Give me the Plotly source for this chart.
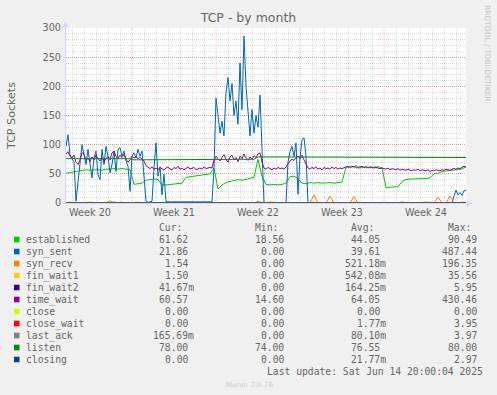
import plotly.graph_objects as go
import pandas as pd

# ---------------- data ----------------
series_names = ["established", "syn_sent", "syn_recv", "fin_wait1", "fin_wait2",
                "time_wait", "close", "close_wait", "last_ack", "listen", "closing"]
series_colors = ["#00CC00", "#0066B3", "#FF8000", "#FFCC00", "#330099",
                 "#990099", "#CCFF00", "#FF0000", "#808080", "#008F00", "#00487D"]
week_labels = ["Week 20", "Week 21", "Week 22", "Week 23", "Week 24"]
week_centers = ["2025-05-14 12:00", "2025-05-21 12:00", "2025-05-28 12:00",
                "2025-06-04 12:00", "2025-06-11 12:00"]
week_starts = ["2025-05-18", "2025-05-25", "2025-06-01", "2025-06-08"]
period_start = "2025-05-12 12:00"
period_end = "2025-06-14 20:00"

# samples every 8 h (101 values)
established = [
    51, 52, 54, 55, 56, 57, 56, 57, 57, 56,
    58, 58, 59, 58, 59, 58, 57, 32, 33, 34,
    39, 40, 41, 40, 31, 31, 32, 32, 33, 34,
    44, 45, 46, 47, 48, 48, 50, 60, 24, 31,
    35, 37, 38, 40, 39, 41, 42, 44, 75, 45,
    32, 31, 32, 31, 32, 34, 45, 46, 42, 34,
    33, 35, 34, 35, 34, 35, 35, 34, 35, 36,
    61, 61, 62, 60, 61, 62, 61, 62, 62, 61,
    26, 27, 27, 28, 37, 40, 41, 41, 42, 42,
    42, 43, 50, 51, 54, 55, 56, 56, 57, 58,
    63]

# samples every 4 h (201 values)
syn_sent = [
    97, 117, 83, 75, 70, 3, 37, 60, 100, 83,
    66, 92, 65, 43, 77, 89, 49, 40, 92, 66,
    97, 80, 52, 66, 89, 54, 92, 95, 80, 89,
    72, 63, 20, 80, 86, 77, 92, 80, 89, 43,
    3, 1, 2, 3, 60, 103, 46, 62, 14, 49,
    2, 2, 2, 2, 2, 2, 2, 2, 2, 2,
    2, 2, 2, 2, 2, 2, 2, 2, 2, 2,
    2, 2, 2, 2, 60, 180, 150, 120, 140, 115,
    190, 215, 175, 205, 150, 175, 135, 240, 160, 286,
    200, 150, 115, 160, 120, 150, 130, 185, 80, 0,
    0, 0, 0, 0, 0, 0, 0, 0, 0, 0,
    0, 70, 88, 97, 80, 103, 15, 78, 109, 112,
    80, 0, 0, 0, 0, 0, 0, 0, 0, 0,
    0, 0, 0, 0, 0, 0, 0, 0, 0, 0,
    0, 0, 0, 0, 0, 0, 0, 0, 0, 0,
    0, 0, 0, 0, 0, 0, 0, 0, 0, 0,
    0, 0, 0, 0, 0, 0, 0, 0, 0, 0,
    0, 0, 0, 0, 0, 0, 0, 0, 0, 0,
    0, 0, 0, 0, 0, 0, 0, 0, 0, 0,
    0, 0, 0, 0, 12, 22, 14, 18, 13, 21,
    22]

syn_recv = [
    0, 0, 0, 0, 0, 0, 0, 0, 0, 0,
    0, 4, 0, 0, 0, 0, 0, 0, 0, 0,
    0, 0, 0, 0, 0, 0, 0, 0, 0, 0,
    0, 0, 0, 0, 0, 0, 0, 0, 0, 0,
    0, 0, 0, 0, 0, 0, 0, 0, 3, 0,
    0, 0, 0, 0, 0, 0, 0, 0, 0, 0,
    0, 0, 14, 0, 0, 0, 12, 0, 0, 0,
    0, 0, 11, 0, 0, 0, 0, 0, 0, 0,
    0, 0, 0, 0, 2, 0, 0, 0, 0, 0,
    0, 0, 0, 10, 0, 0, 12, 0, 0, 0,
    1.5]

fin_wait1 = [
    1, 2, 1, 0, 0, 1, 2, 1, 0, 0,
    1, 2, 0, 1, 2, 0, 0, 1, 2, 0,
    0, 0, 0, 0, 0, 0, 0, 0, 0, 0,
    0, 0, 0, 0, 0, 0, 0, 0, 0, 0,
    0, 0, 0, 0, 0, 0, 0, 1, 1, 0,
    1, 2, 1, 0, 0, 0, 0, 0, 0, 0,
    0, 1, 2, 0, 0, 1, 0, 0, 0, 0,
    0, 1, 2, 1, 0, 0, 0, 0, 0, 0,
    0, 0, 0, 0, 0, 0, 0, 0, 0, 1,
    2, 1, 0, 0, 0, 0, 0, 1, 1, 2,
    1.5]

fin_wait2 = [
    0, 0, 0, 0, 0, 0, 0, 0, 0, 0,
    0, 0, 1.5, 0, 0, 0, 0, 0, 0, 0,
    0, 0, 0, 0, 0, 0, 0, 0, 0, 0,
    0, 0, 0, 0, 0, 0, 0, 0, 0, 0,
    0, 0, 0, 0, 0, 0, 0, 0, 0, 0,
    0, 0, 0, 0, 0, 0, 0, 0, 0, 0,
    0, 0, 0, 0, 0, 0, 0, 0, 0, 0,
    0, 0, 0, 0, 0, 0, 0, 0, 0, 0,
    0, 0, 0, 0, 0, 0, 0, 0, 0, 0,
    0, 0, 0, 0, 0, 0, 0, 0, 0, 0,
    0.04]

# samples every 4 h (201 values)
time_wait = [
    84, 88, 80, 77, 82, 70, 66, 74, 86, 84,
    73, 77, 71, 79, 74, 82, 76, 72, 78, 70,
    76, 80, 74, 86, 89, 80, 76, 82, 78, 84,
    75, 70, 74, 80, 77, 79, 76, 78, 75, 72,
    64, 61, 59, 62, 58, 60, 57, 61, 59, 56,
    60, 62, 58, 57, 61, 59, 63, 58, 60, 57,
    59, 62, 58, 60, 61, 57, 59, 60, 58, 62,
    59, 60, 61, 60, 74, 80, 76, 72, 78, 83,
    75, 70, 79, 82, 74, 78, 71, 80, 76, 84,
    77, 73, 79, 75, 81, 78, 84, 86, 70, 60,
    58, 61, 59, 57, 60, 58, 61, 59, 60, 58,
    62, 68, 72, 75, 73, 78, 80, 76, 82, 74,
    66, 60, 58, 61, 59, 62, 58, 60, 57, 61,
    59, 60, 58, 62, 59, 61, 58, 60, 59, 61,
    62, 63, 61, 63, 62, 64, 61, 62, 63, 61,
    62, 60, 62, 61, 60, 61, 60, 59, 60, 59,
    58, 60, 57, 59, 58, 57, 59, 56, 58, 57,
    56, 58, 57, 55, 57, 56, 58, 55, 57, 56,
    55, 57, 54, 56, 55, 57, 56, 55, 57, 56,
    58, 57, 56, 58, 59, 58, 60, 59, 61, 63,
    61]

close = [
    0, 0, 0, 0, 0, 0, 0, 0, 0, 0,
    0, 0, 0, 0, 0, 0, 0, 0, 0, 0,
    0, 0, 0, 0, 0, 0, 0, 0, 0, 0,
    0, 0, 0, 0, 0, 0, 0, 0, 0, 0,
    0, 0, 0, 0, 0, 0, 0, 0, 0, 0,
    0, 0, 0, 0, 0, 0, 0, 0, 0, 0,
    0, 0, 0, 0, 0, 0, 0, 0, 0, 0,
    0, 0, 0, 0, 0, 0, 0, 0, 0, 0,
    0, 0, 0, 0, 0, 0, 0, 0, 0, 0,
    0, 0, 0, 0, 0, 0, 0, 0, 0, 0,
    0]

close_wait = [
    0, 0, 0, 0, 0, 0, 0, 0, 0, 0,
    0, 0, 0, 0, 0, 0, 0, 0, 0, 0,
    0, 0, 0, 0, 0, 0, 0, 0, 0, 0,
    0, 0, 0, 0, 0, 0, 0, 0, 0, 0,
    0, 0, 0, 0, 0, 0, 0, 0, 0, 0,
    0, 0, 0, 0, 0, 0, 0, 0, 0, 0,
    0, 0, 0, 0, 0, 0, 0, 0, 0, 0,
    0, 0, 0, 0, 0, 0, 0, 0, 0, 0,
    0, 0, 0, 0, 0, 0, 0, 0, 0, 0,
    0, 0, 0, 0, 0, 0, 0, 0, 0, 0,
    0]

last_ack = [
    0, 0, 0, 0, 0, 0, 0, 0, 0, 0,
    0, 0, 0, 0, 0, 0, 0, 0, 0, 0,
    0, 0, 0, 0, 0, 0, 0, 0, 0, 0,
    0, 0, 0, 0, 0, 0, 0, 0, 0, 0,
    1, 0, 0, 0, 0, 0, 0, 0, 0, 0,
    0, 0, 0, 0, 0, 0, 0, 0, 0, 0,
    0, 0, 0, 0, 0, 0, 0, 0, 0, 0,
    0, 0, 0, 0, 0, 0, 0, 0, 0, 0,
    0, 0, 0, 0, 0, 0, 0, 0, 0, 0,
    0, 0, 0, 0, 0, 0, 0, 0, 0, 0,
    0.17]

listen = [
    76, 76, 76, 76, 76, 76, 76, 76, 76, 76,
    76, 76, 76, 76, 76, 76, 76, 74, 74, 74,
    74, 74, 74, 74, 74, 74, 74, 74, 74, 74,
    74, 74, 74, 74, 74, 74, 74, 74, 75, 75,
    75, 75, 75, 75, 75, 75, 75, 75, 79, 79,
    79, 79, 79, 79, 79, 79, 79, 79, 79, 79,
    79, 79, 79, 79, 79, 79, 79, 79, 79, 79,
    79, 79, 79, 79, 79, 79, 79, 79, 79, 79,
    79, 79, 79, 79, 79, 79, 79, 79, 79, 79,
    79, 79, 79, 79, 79, 79, 79, 79, 79, 79,
    78]

closing = [
    0, 0, 0, 0, 0, 0, 0, 0, 0, 0,
    0, 0, 0, 0, 0, 0, 0, 0, 0, 0,
    0, 0, 0, 0, 0, 0, 0, 0, 0, 0,
    0, 0, 0, 0, 0, 0, 0, 0, 0, 0,
    0, 0, 0, 0, 0, 0, 0, 0, 0, 0,
    0, 0, 0, 0, 0, 0, 0, 0, 0, 0,
    0, 0, 0, 0, 0, 0, 0, 0, 0, 0,
    0, 0, 0, 0, 0, 0, 0, 0, 0, 0,
    0, 0, 0, 0, 0, 0, 0, 0, 0, 0,
    0, 0, 0, 0, 0, 0, 0, 0, 0, 0,
    0]

legend_cur = ["61.62", "21.86", "1.54", "1.50", "41.67m", "60.57", "0.00", "0.00", "165.69m", "78.00", "0.00"]
legend_min = ["18.56", "0.00", "0.00", "0.00", "0.00", "14.60", "0.00", "0.00", "0.00", "74.00", "0.00"]
legend_avg = ["44.05", "39.61", "521.18m", "542.08m", "164.25m", "64.05", "0.00", "1.77m", "80.10m", "76.55", "21.77m"]
legend_max = ["90.49", "487.44", "196.35", "35.56", "5.95", "430.46", "0.00", "3.95", "3.97", "80.00", "2.97"]
column_headers = ["Cur:", "Min:", "Avg:", "Max:"]
title_text = "TCP - by month"
y_title = "TCP Sockets"
last_update = "Last update: Sat Jun 14 20:00:04 2025"
watermark = "Munin 2.0.76"
author = "RRDTOOL / TOBI OETIKER"

all_series = [established, syn_sent, syn_recv, fin_wait1, fin_wait2,
              time_wait, close, close_wait, last_ack, listen, closing]

# ---------------- layout helpers ----------------
W, H = 497, 395
ML, MR, MT, MB = 66, 31, 28, 192
PW, PH = W - ML - MR, H - MT - MB


def fx(p):
    return (p - ML) / PW


def fy(p):
    return (H - MB - p) / PH


FONT = "DejaVu Sans"
MONO = "DejaVu Sans Mono"
FCOL = "#666666"
AXIS = "#CFD6F8"
GRID = "rgba(150,150,150,0.32)"
MGRID = "rgba(225,90,90,0.45)"

t_start = pd.Timestamp(period_start)
t4 = pd.date_range(t_start, periods=201, freq="4h")
t8 = pd.date_range(t_start, periods=101, freq="8h")

fig = go.Figure()
for name, col, vals in zip(series_names, series_colors, all_series):
    tt = t4 if len(vals) == len(t4) else t8
    fig.add_trace(go.Scatter(x=tt, y=vals, mode="lines", name=name,
                             line=dict(color=col, width=1),
                             hoverinfo="skip", showlegend=False))

# daily minor grid (skip week boundaries, which get the red major line)
days = pd.date_range("2025-05-13", "2025-06-14", freq="D")
week_set = set(pd.to_datetime(week_starts))
minor_days = [d for d in days if d not in week_set]

shapes = []
for ws in week_starts:
    shapes.append(dict(type="line", xref="x", yref="paper", x0=ws, x1=ws, y0=0, y1=1,
                       line=dict(color=MGRID, width=1, dash="1px,1px"), layer="below"))

# axis extensions and arrows
shapes.append(dict(type="line", xref="paper", yref="paper", x0=fx(65.5), x1=fx(65.5),
                   y0=1, y1=fy(24), line=dict(color=AXIS, width=1)))
shapes.append(dict(type="path", xref="paper", yref="paper",
                   path=f"M {fx(62.5)},{fy(27)} L {fx(68.5)},{fy(27)} L {fx(65.5)},{fy(21.5)} Z",
                   fillcolor=AXIS, line=dict(width=0)))
shapes.append(dict(type="line", xref="paper", yref="paper", x0=1, x1=fx(469),
                   y0=fy(203.5), y1=fy(203.5), line=dict(color=AXIS, width=1)))
shapes.append(dict(type="path", xref="paper", yref="paper",
                   path=f"M {fx(467)},{fy(200.5)} L {fx(467)},{fy(206.5)} L {fx(472.5)},{fy(203.5)} Z",
                   fillcolor=AXIS, line=dict(width=0)))

annotations = []


def txt(x, y, s, size=9.7, family=MONO, color=FCOL, xanchor="left", angle=0):
    annotations.append(dict(xref="paper", yref="paper", x=fx(x), y=fy(y), text=s,
                            showarrow=False, xanchor=xanchor, yanchor="middle",
                            textangle=angle, borderpad=0, borderwidth=0,
                            font=dict(family=family, size=size, color=color)))


CW = 0.602 * 9.7
col_right = [188.3, 284.0, 380.0, 476.7]
row0 = 239.5
rowh = 12.0

for j, hdr in enumerate(column_headers):
    txt(col_right[j] - 5 * CW, 227.5, hdr)

for i, name in enumerate(series_names):
    yc = row0 + i * rowh
    shapes.append(dict(type="rect", xref="paper", yref="paper",
                       x0=fx(14), x1=fx(19.5), y0=fy(yc + 2.8), y1=fy(yc - 2.8),
                       fillcolor=series_colors[i], line=dict(width=0)))
    txt(26, yc, name)
    for j, colvals in enumerate([legend_cur, legend_min, legend_avg, legend_max]):
        s = colvals[i]
        xr = col_right[j] + (CW if s.endswith("m") else 0)
        txt(xr, yc, s, xanchor="right")

txt(482.5, 371.5, last_update, xanchor="right")
txt(249, 384, watermark, size=7.2, family=FONT, color="#cccccc", xanchor="center")
txt(488, 53, author, size=7.5, family=FONT, color="#c4c4c4", xanchor="center", angle=90)
txt(11.5, 115.5, y_title, size=11.1, family=FONT, color=FCOL, xanchor="center", angle=-90)

fig.update_layout(
    width=W, height=H,
    margin=dict(l=ML, r=MR, t=MT, b=MB, pad=0),
    paper_bgcolor="#F0F0F0", plot_bgcolor="#FFFFFF",
    title=dict(text=title_text, x=0.5, xref="container", xanchor="center",
               y=1 - 18 / H, yref="container", yanchor="middle",
               font=dict(family=FONT, size=12.5, color=FCOL)),
    shapes=shapes, annotations=annotations,
    showlegend=False,
    xaxis=dict(type="date", range=[period_start, period_end],
               tickmode="array", tickvals=week_centers, ticktext=week_labels,
               showgrid=False, zeroline=False, ticks="",
               showline=True, linecolor=AXIS, linewidth=1,
               tickfont=dict(family=FONT, size=9.7, color=FCOL),
               minor=dict(tickmode="array", tickvals=minor_days, showgrid=True,
                          gridcolor=GRID, griddash="1px,1px", gridwidth=1, ticks=""),
               fixedrange=True),
    yaxis=dict(range=[0, 300], tickmode="array", tickvals=[0, 50, 100, 150, 200, 250, 300],
               showgrid=True, gridcolor=MGRID, griddash="1px,1px", gridwidth=1,
               zeroline=False, showline=True, linecolor=AXIS, linewidth=1,
               ticks="outside", ticklen=2, tickcolor=AXIS,
               tickfont=dict(family=FONT, size=9.7, color=FCOL),
               minor=dict(dtick=10, tick0=0, showgrid=True, gridcolor=GRID,
                          griddash="1px,1px", gridwidth=1, ticks=""),
               fixedrange=True),
)

fig.write_html("out.html", config={"displayModeBar": False},
               post_script="document.body.style.margin='0';document.body.style.padding='0';")
